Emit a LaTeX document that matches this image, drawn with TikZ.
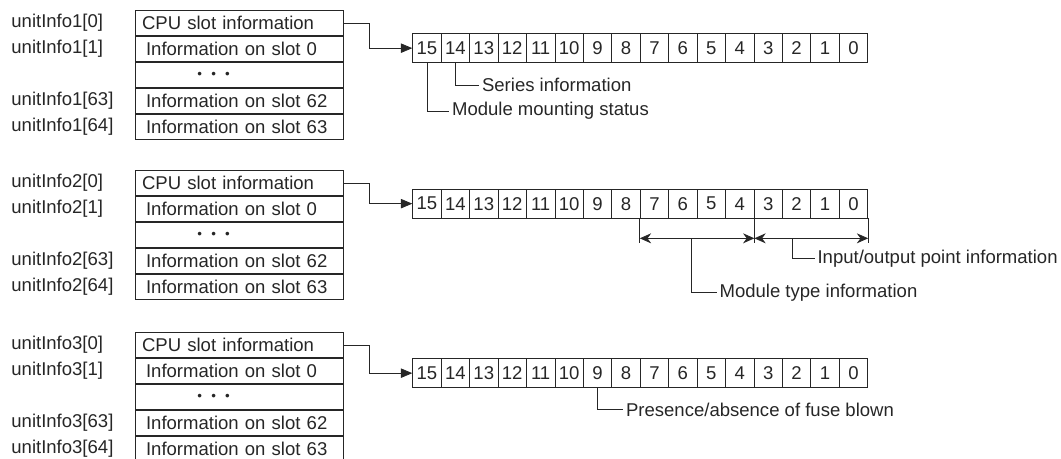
\documentclass[tikz,border=0pt]{standalone}
\usepackage{fontspec}
\setmainfont{Liberation Sans}
\usetikzlibrary{arrows.meta,positioning,calc}

\tikzset{
  every node/.style={font=\fontsize{13.9}{16}\selectfont},
  cpurow/.style={draw, minimum width=155.8pt, minimum height=18.9pt,
    inner xsep=5pt, inner ysep=0pt, text width=145.8pt, align=left},
  slotrow/.style={cpurow, inner xsep=8pt, text width=139.8pt},
  bitcell/.style={draw, minimum width=21.33pt, minimum height=21.4pt,
    inner sep=0pt, anchor=north west},
  idx/.style={anchor=west, inner sep=0pt},
  note/.style={anchor=west, inner sep=2pt},
  conn/.style={-{Triangle[length=8.5pt,width=7pt]}},
  spanarrow/.style={{Stealth[length=8.5pt,width=7.5pt]}-{Stealth[length=8.5pt,width=7.5pt]}}
}
\newcommand{\slotdots}{{\fontsize{10}{10}\selectfont \textbullet\hspace{6.9pt}\textbullet\hspace{6.9pt}\textbullet}}

\begin{document}
\begin{tikzpicture}[x=0.75pt,y=-0.75pt,semithick,color=black!85]
    \useasboundingbox (0,0) rectangle (1061,459);

    % the three unitInfo tables with their bit layouts
    \foreach \s/\ty/\by in {1/10/33.5, 2/170/189, 3/332/358.5} {
        \node[cpurow,anchor=north west] (t\s-0) at (135,\ty) {CPU slot information};
        \node[slotrow,below=0pt of t\s-0] (t\s-1) {Information on slot 0};
        \node[slotrow,below=0pt of t\s-1] (t\s-d) {\hspace*{38.5pt}\slotdots};
        \node[slotrow,below=0pt of t\s-d] (t\s-62) {Information on slot 62};
        \node[slotrow,below=0pt of t\s-62] (t\s-63) {Information on slot 63};

        \node[idx] (l\s-0)  at (t\s-0.west -| 11,0)  {unitInfo\s[0]};
        \node[idx] (l\s-1)  at (t\s-1.west -| 11,0)  {unitInfo\s[1]};
        \node[idx] (l\s-62) at (t\s-62.west -| 11,0) {unitInfo\s[63]};
        \node[idx] (l\s-63) at (t\s-63.west -| 11,0) {unitInfo\s[64]};

        \foreach \b in {15,...,0}
            \node[bitcell] (b\s-\b) at ({412.3+28.44*(15-\b)},\by) {\b};

        \draw[conn] (t\s-0.east) -- ++(25.6,0) |- (b\s-15.west);
    }

    % unitInfo1
    \node[note] (mms) at (449,111)  {Module mounting status};
    \node[note] (ser) at (479,85.3) {Series information};
    \draw (b1-15.south) |- (mms.west);
    \draw (b1-14.south) |- (ser.west);

    % unitInfo2
    \draw (b2-7.south west) -- ++(0,24.4);
    \draw (b2-4.south east) -- ++(0,24.4);
    \draw (b2-0.south east) -- ++(0,24.4);
    \coordinate (mt-l) at ($(b2-7.south west)+(0,20)$);
    \coordinate (mt-r) at ($(b2-4.south east)+(0,20)$);
    \coordinate (io-r) at ($(b2-0.south east)+(0,20)$);
    \draw[spanarrow] (mt-l) -- (mt-r);
    \draw[spanarrow] (mt-r) -- (io-r);
    \coordinate (mt-c) at ($(mt-l)!0.45!(mt-r)$);
    \coordinate (io-c) at ($(mt-r)!0.33!(io-r)$);
    \node[note] (mti) at (716.5,292.7) {Module type information};
    \node[note] (ioi) at (814.5,258.3) {Input/output point information};
    \draw (mt-c) |- (mti.west);
    \draw (io-c) |- (ioi.west);

    % unitInfo3
    \node[note] (pab) at (623,409.7) {Presence/absence of fuse blown};
    \draw (b3-9.south) |- (pab.west);
\end{tikzpicture}
\end{document}
